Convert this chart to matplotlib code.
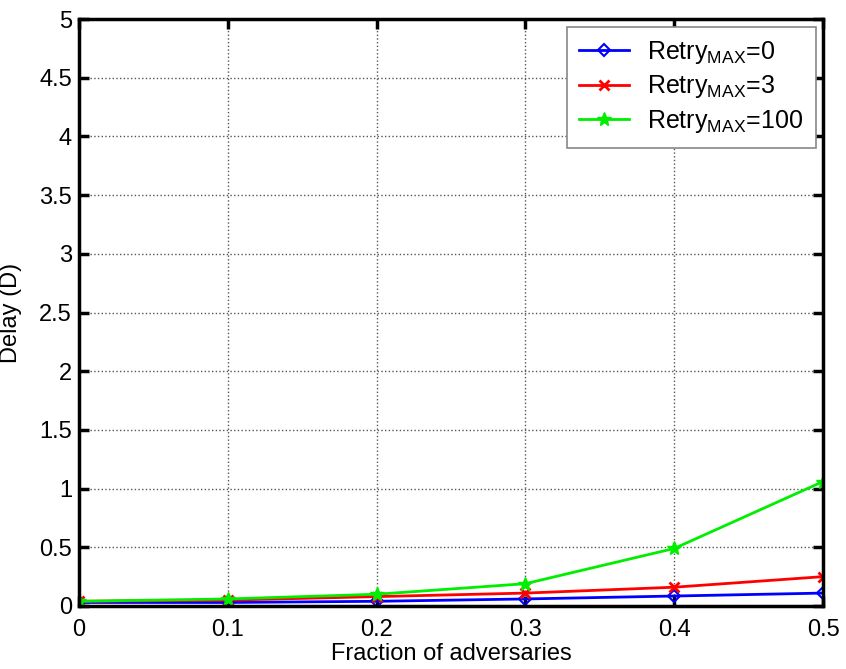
import matplotlib
matplotlib.use("Agg")
import matplotlib.pyplot as plt

plt.rcParams['font.family'] = ['Liberation Sans', 'DejaVu Sans']
plt.rcParams['mathtext.fontset'] = 'custom'
plt.rcParams['mathtext.rm'] = 'Liberation Sans'

# fraction of adversaries
fraction = [0, 0.1, 0.2, 0.3, 0.4, 0.5]
# delay for each max retry setting
delay_retry0 = [0.03, 0.03, 0.04, 0.06, 0.085, 0.11]
delay_retry3 = [0.04, 0.05, 0.08, 0.11, 0.16, 0.25]
delay_retry100 = [0.04, 0.06, 0.10, 0.19, 0.49, 1.06]
labels = [r'Retry$_{\mathrm{MAX}}$=0', r'Retry$_{\mathrm{MAX}}$=3', r'Retry$_{\mathrm{MAX}}$=100']

xticks = [0, 0.1, 0.2, 0.3, 0.4, 0.5]
yticks = [0, 0.5, 1, 1.5, 2, 2.5, 3, 3.5, 4, 4.5, 5]
ytick_labels = ['0', '0.5', '1', '1.5', '2', '2.5', '3', '3.5', '4', '4.5', '5']

fig = plt.figure(figsize=(8.46, 6.69), dpi=100)
ax = fig.add_axes([79/846, 1 - 606/669, (823-79)/846, (606-19)/669])

ax.plot(fraction, delay_retry0, color='#0000ff', lw=2, marker='D', ms=6,
        mfc='none', mew=1.5, label=labels[0])
ax.plot(fraction, delay_retry3, color='#ff0000', lw=2, marker='x', ms=7,
        mew=2, label=labels[1])
ax.plot(fraction, delay_retry100, color='#00ee00', lw=2, marker='*', ms=10,
        label=labels[2])

ax.set_xlim(0, 0.5)
ax.set_ylim(0, 5)
ax.set_xticks(xticks)
ax.set_xticklabels([str(t) for t in xticks])
ax.set_yticks(yticks)
ax.set_yticklabels(ytick_labels)
ax.grid(True, linestyle=':', color='#555555', linewidth=1)
ax.tick_params(direction='in', length=7, width=2.5, labelsize=17,
               top=True, right=True)
ax.tick_params(axis='x', pad=9)
ax.tick_params(axis='y', pad=5)
for s in ax.spines.values():
    s.set_linewidth(2.5)

ax.set_xlabel('Fraction of adversaries', fontsize=17, labelpad=2)
# y label pushed to the very left edge, as in the reference
ax.set_ylabel('Delay (D)', fontsize=17)
ax.yaxis.set_label_coords(-0.076, 0.5)

leg = ax.legend(loc='upper right', fontsize=18, frameon=True, fancybox=False,
                edgecolor='#888888', framealpha=1, borderaxespad=0.3,
                handlelength=2, handletextpad=0.7, labelspacing=0.3,
                borderpad=0.5)
leg.get_frame().set_linewidth(1.2)

fig.savefig('out.png', dpi=100)
